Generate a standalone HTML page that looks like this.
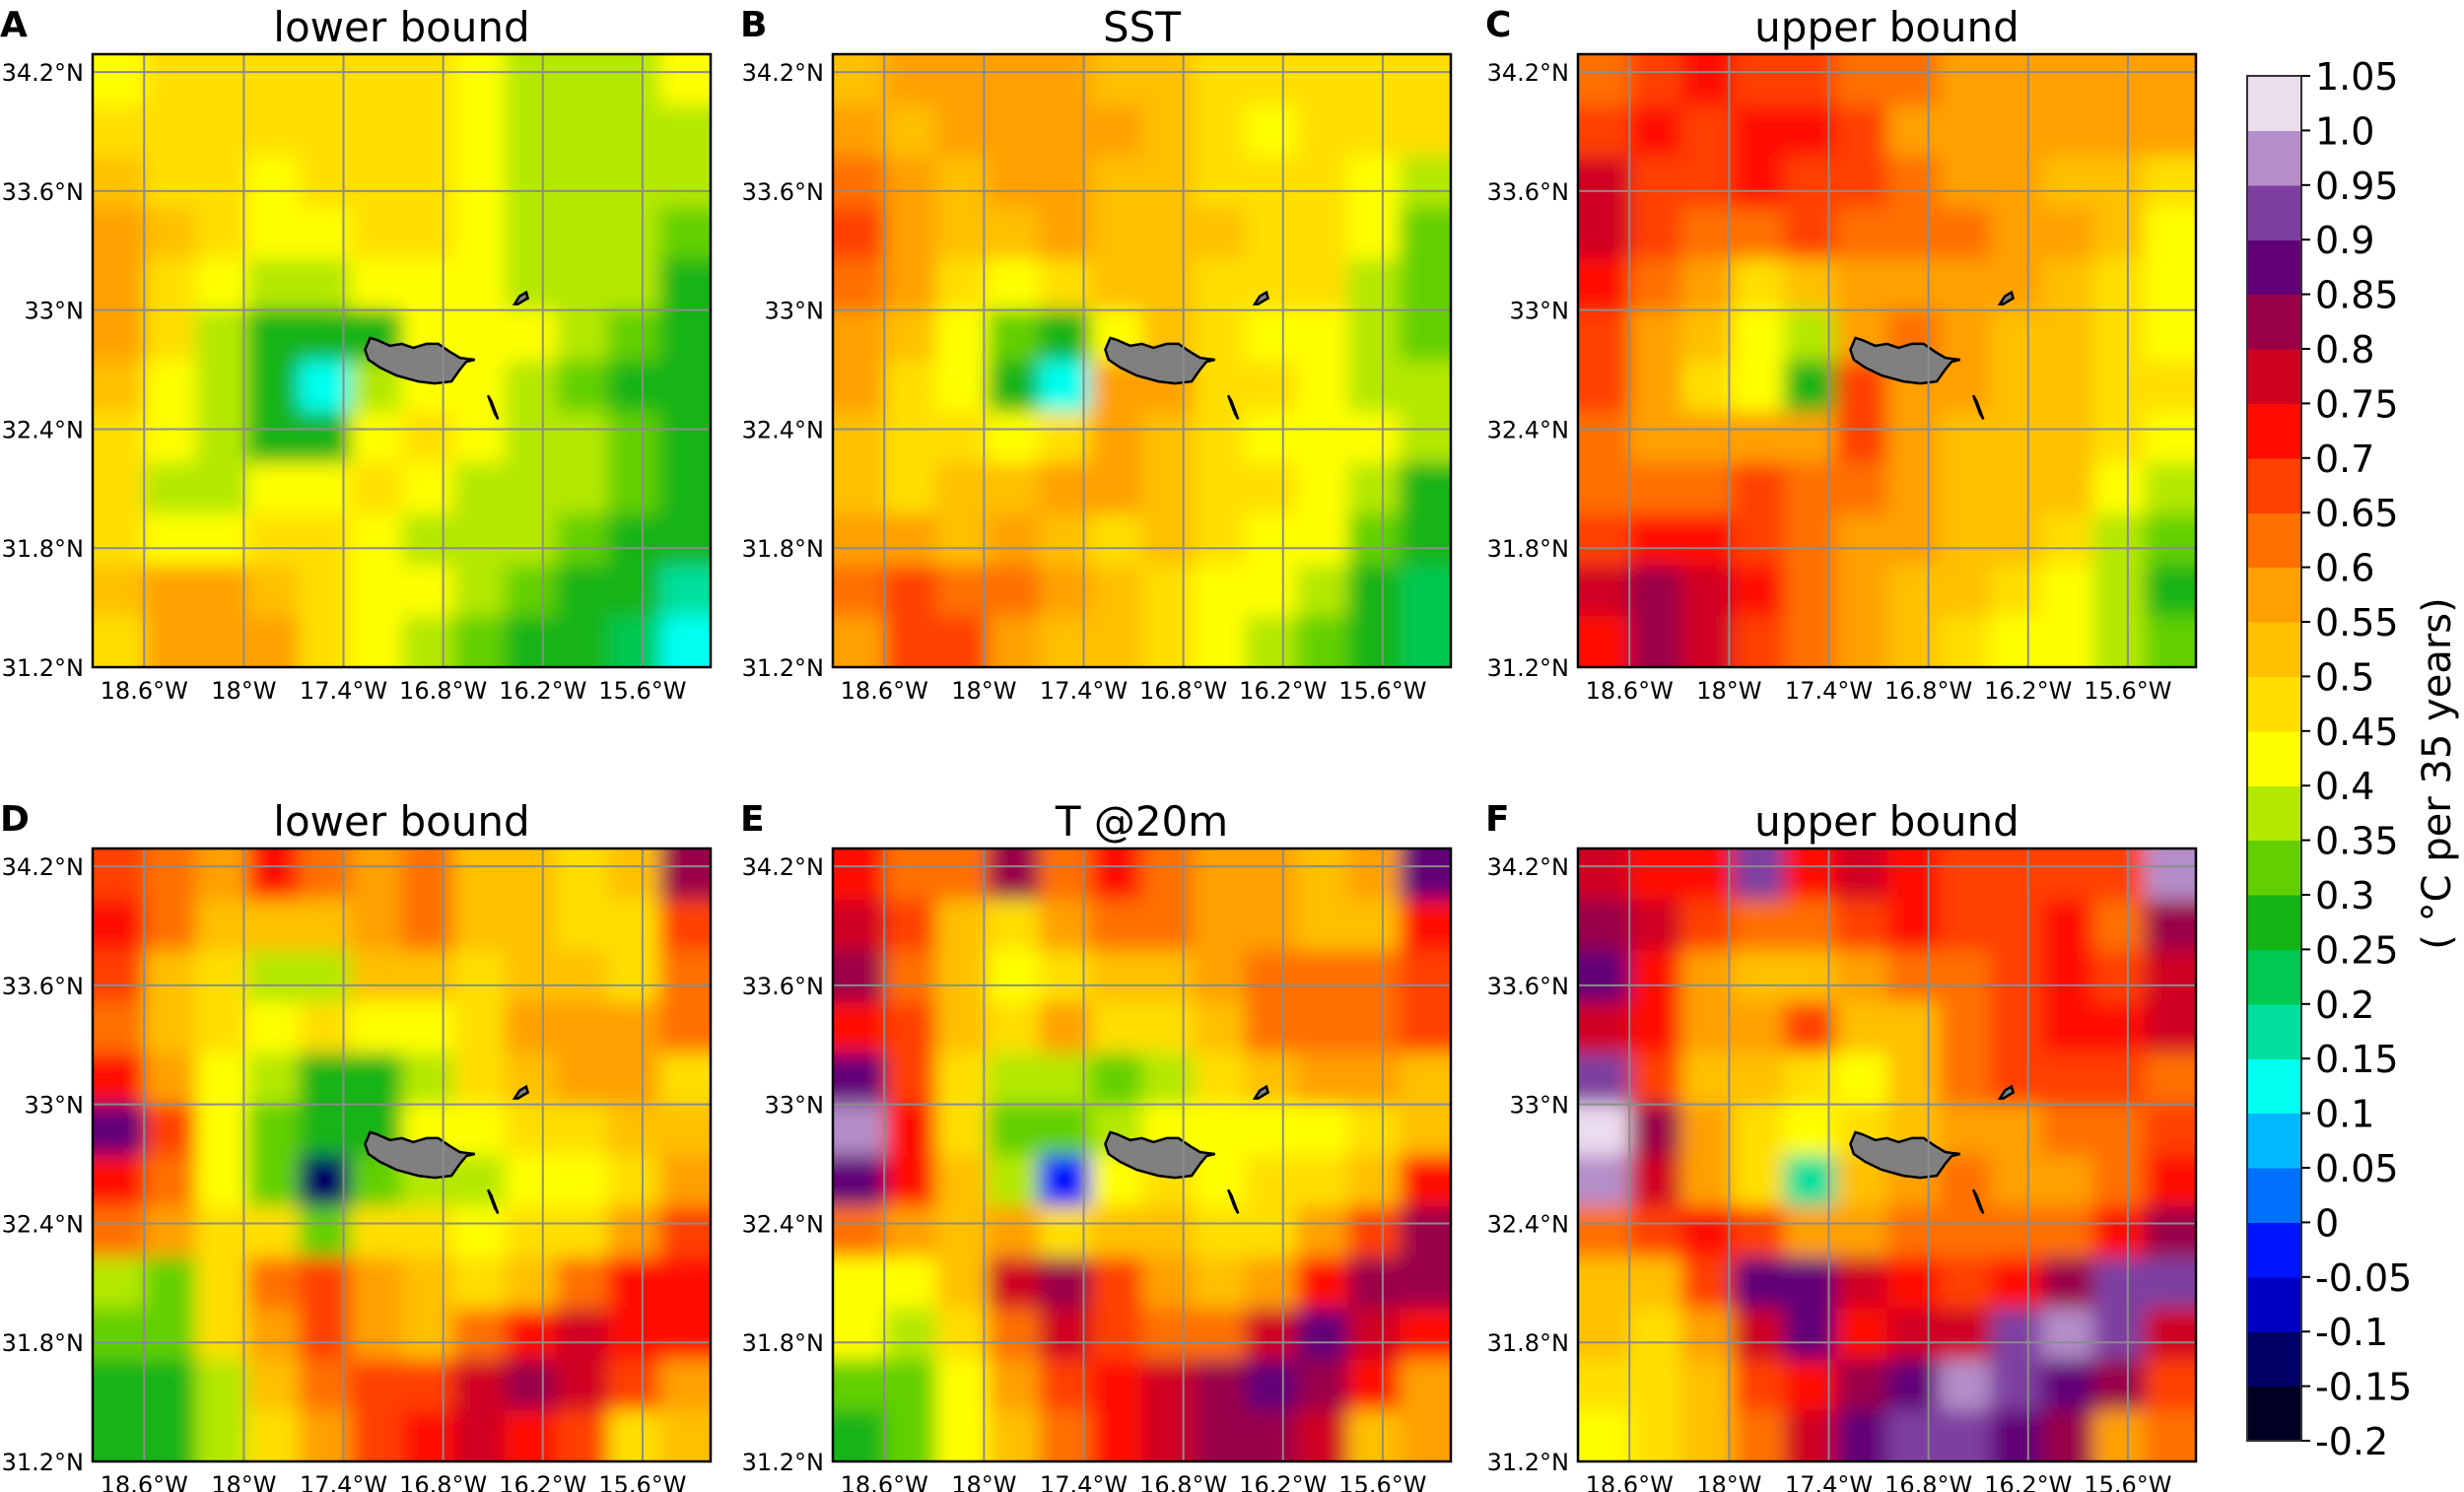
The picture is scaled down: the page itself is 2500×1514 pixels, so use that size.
<!DOCTYPE html>
<html><head><meta charset="utf-8"><style>
html,body{margin:0;padding:0;background:#fff;}
svg{display:block;font-family:"DejaVu Sans","Liberation Sans",sans-serif;}
</style></head><body>
<svg id="fig" width="2500" height="1514" viewBox="0 0 2500 1514" xmlns="http://www.w3.org/2000/svg">
<defs><filter id="soft" x="-10%" y="-10%" width="120%" height="120%"><feGaussianBlur stdDeviation="10"/></filter></defs>
</svg>
<script>
// ---- data (values in hundredths of °C per 35 years), rows N->S, cols W->E ----
const panelLetters = ["A","B","C","D","E","F"];
const panelTitles = ["lower bound","SST","upper bound","lower bound","T @20m","upper bound"];
const latTicks = [34.2,33.6,33.0,32.4,31.8,31.2];
const latLabels = ["34.2°N","33.6°N","33°N","32.4°N","31.8°N","31.2°N"];
const lonTicks = [-18.6,-18.0,-17.4,-16.8,-16.2,-15.6];
const lonLabels = ["18.6°W","18°W","17.4°W","16.8°W","16.2°W","15.6°W"];
const cbLevels = [-0.2,-0.15,-0.1,-0.05,0,0.05,0.1,0.15,0.2,0.25,0.3,0.35,0.4,0.45,0.5,0.55,0.6,0.65,0.7,0.75,0.8,0.85,0.9,0.95,1.0,1.05];
const cbLabels = ["-0.2","-0.15","-0.1","-0.05","0","0.05","0.1","0.15","0.2","0.25","0.3","0.35","0.4","0.45","0.5","0.55","0.6","0.65","0.7","0.75","0.8","0.85","0.9","0.95","1.0","1.05"];
const cbColors = ["#000022","#000066","#0000c4","#0014ff","#0070ff","#00b8ff","#00fff0","#00e09c","#00c850","#14b414","#62d000","#b4e800","#ffff00","#ffdf00","#ffc000","#ffa000","#ff7000","#ff4000","#ff0c00","#d00020","#9a0048","#620078","#7e40a0","#b48ec8","#ebdcee"];
const gridA = [
[42,45,47,47,47,47,45,42,38,38,38,40],
[45,47,47,45,48,47,45,42,38,38,38,38],
[52,47,45,42,47,48,45,42,38,38,38,35],
[55,50,47,42,42,47,45,42,38,38,35,32],
[57,47,42,38,38,42,42,42,38,38,35,28],
[55,45,38,28,25,28,42,42,40,35,32,28],
[50,42,35,25,12,38,42,42,38,32,28,28],
[47,40,35,28,25,40,45,40,38,35,30,28],
[45,38,37,40,42,45,42,38,38,35,30,27],
[45,42,42,45,45,42,38,38,35,30,27,25],
[50,55,55,50,47,42,40,35,30,27,25,17],
[47,57,57,55,47,42,38,32,27,25,22,13]];
const gridB = [
[50,55,57,57,57,52,50,47,47,45,47,47],
[55,52,57,57,57,55,50,45,42,45,47,45],
[62,55,50,55,57,52,52,47,45,45,42,38],
[65,57,50,52,55,52,52,52,47,45,40,32],
[62,55,45,40,45,52,50,47,47,45,38,30],
[57,50,42,32,25,40,52,47,42,40,38,32],
[55,47,40,28,12,55,55,47,45,40,38,35],
[52,47,45,42,45,57,52,45,42,42,40,35],
[50,45,50,50,55,55,52,47,45,42,38,28],
[55,55,52,55,50,47,52,45,42,40,32,25],
[60,65,62,60,55,50,45,42,40,35,28,22],
[55,65,67,57,52,50,45,40,35,32,25,20]];
const gridC = [
[62,67,70,67,67,62,60,57,57,55,57,57],
[67,70,67,70,70,65,57,57,55,57,55,57],
[75,67,65,70,67,65,60,57,57,52,52,47],
[75,67,62,62,65,62,62,62,57,55,50,42],
[72,62,55,47,52,57,57,57,55,52,47,42],
[67,57,50,40,35,55,60,55,52,52,47,42],
[65,55,47,40,25,65,55,55,52,52,47,45],
[62,57,57,55,57,67,57,52,52,50,47,40],
[62,62,62,65,60,60,57,52,52,50,42,35],
[65,70,70,65,60,57,57,52,50,47,38,32],
[75,80,75,70,62,57,52,50,47,42,35,28],
[70,82,77,67,62,57,52,47,42,40,37,30]];
const gridD = [
[65,60,57,72,62,57,62,52,52,47,52,80],
[72,62,52,52,52,57,60,52,52,47,47,65],
[67,52,47,38,37,52,52,47,52,52,47,60],
[62,50,47,42,47,42,42,45,55,55,57,60],
[72,57,42,35,28,25,37,45,52,55,55,47],
[85,65,42,30,25,25,40,42,45,47,52,50],
[70,60,42,30,-15,30,37,38,42,40,45,55],
[60,55,45,45,30,45,45,42,45,47,57,67],
[35,32,45,62,67,57,52,47,52,62,70,72],
[32,30,45,55,65,57,52,62,70,75,72,70],
[25,27,35,52,60,65,67,75,80,75,67,55],
[25,28,37,47,57,67,72,75,72,67,47,50]];
const gridE = [
[70,62,62,80,62,70,62,57,57,52,57,85],
[75,67,52,45,55,62,62,57,55,52,50,70],
[80,60,50,42,47,52,50,57,60,60,60,65],
[72,65,50,47,57,45,45,50,60,62,62,67],
[85,65,45,37,35,30,37,47,52,57,57,52],
[95,72,45,33,30,35,40,42,42,42,47,50],
[85,70,50,35,-5,40,45,42,45,47,52,70],
[60,57,52,57,45,50,50,47,47,55,67,80],
[42,40,50,75,80,67,57,52,57,72,80,82],
[40,37,45,62,75,65,60,62,75,85,77,70],
[32,33,42,55,65,72,77,82,85,80,72,57],
[27,30,40,52,62,72,77,82,80,77,50,55]];
const gridF = [
[75,72,70,90,70,75,72,67,67,65,65,95],
[80,75,67,62,60,65,70,67,67,70,62,82],
[85,72,57,52,52,55,60,62,67,72,67,75],
[77,72,55,57,65,52,50,62,67,70,70,75],
[90,67,52,50,47,42,50,62,65,65,67,60],
[102,80,57,47,42,45,52,57,57,60,62,65],
[95,77,57,45,15,50,57,60,57,55,60,72],
[62,65,72,67,55,57,60,62,62,62,70,80],
[52,50,67,85,87,75,70,65,72,82,92,90],
[50,47,55,75,85,72,75,77,90,95,90,75],
[45,45,50,65,70,80,87,95,90,87,80,67],
[42,45,50,60,75,85,90,92,87,82,55,60]];
const grids = [gridA,gridB,gridC,gridD,gridE,gridF];
const madeiraLon = [-17.27,-17.24,-17.2,-17.12,-17.05,-16.98,-16.9,-16.83,-16.76,-16.7,-16.66,-16.61,-16.66,-16.7,-16.75,-16.85,-16.95,-17.08,-17.18,-17.25,-17.27];
const madeiraLat = [32.8,32.86,32.85,32.82,32.83,32.81,32.83,32.83,32.79,32.76,32.755,32.75,32.74,32.7,32.64,32.63,32.64,32.67,32.71,32.75,32.8];
const portoLon = [-16.37,-16.34,-16.3,-16.29,-16.31,-16.35,-16.37];
const portoLat = [33.03,33.07,33.09,33.06,33.05,33.03,33.03];
const desertasLon = [-16.53,-16.51,-16.47,-16.49,-16.53];
const desertasLat = [32.57,32.54,32.45,32.48,32.57];

// ---- layout ----
const NS="http://www.w3.org/2000/svg";
const svg=document.getElementById('fig');
const defs=svg.querySelector('defs');
const colX=[94,845,1601], rowY=[55,861], PW=627, PH=622;
const lonMin=-18.91, lonMax=-15.19, latMin=31.2, latMax=34.29;
function mk(tag,attrs,parent){const e=document.createElementNS(NS,tag);for(const k in attrs)e.setAttribute(k,attrs[k]);(parent||svg).appendChild(e);return e;}
function colorOf(v){let i=Math.floor((v/100+0.2)/0.05+1e-9);i=Math.max(0,Math.min(cbColors.length-1,i));return cbColors[i];}

grids.forEach((g,p)=>{
  const x0=colX[p%3], y0=rowY[Math.floor(p/3)];
  const xs=lon=>x0+(lon-lonMin)/(lonMax-lonMin)*PW;
  const ys=lat=>y0+(latMax-lat)/(latMax-latMin)*PH;
  const cp=mk('clipPath',{id:'clip'+p},defs);
  mk('rect',{x:x0,y:y0,width:PW,height:PH},cp);
  const grp=mk('g',{});
  
  
  const clipG=mk('g',{'clip-path':'url(#clip'+p+')'},grp);
  const field=mk('g',{filter:'url(#soft)'},clipG);
  
  
  const nr=g.length, nc=g[0].length;
  const cw=PW/nc, ch=PH/nr, pad=50;
  g.forEach((row,r)=>row.forEach((v,c)=>{
    let x=x0+c*cw, y=y0+r*ch, w=cw+1, h=ch+1;
    if(c===0){x-=pad;w+=pad;} if(c===nc-1){w+=pad;}
    if(r===0){y-=pad;h+=pad;} if(r===nr-1){h+=pad;}
    const rc=mk('rect',{x:x.toFixed(1),y:y.toFixed(1),width:w.toFixed(1),height:h.toFixed(1),fill:colorOf(v),'shape-rendering':'crispEdges'},field);
    
    
  }));
  // islands
  [[madeiraLon,madeiraLat,'madeira-island'],[portoLon,portoLat,'porto-santo-island'],[desertasLon,desertasLat,'desertas-island']].forEach(([lo,la,nm])=>{
    const pts=lo.map((l,i)=>xs(l).toFixed(1)+','+ys(la[i]).toFixed(1)).join(' ');
    const pl=mk('polygon',{points:pts,fill:'#808080',stroke:'#000','stroke-width':2.5},grp);
    
    
  });
  // gridlines
  lonTicks.forEach((l,i)=>{
    const X=xs(l);
    const gl=mk('line',{x1:X,x2:X,y1:y0,y2:y0+PH,stroke:'#8c8c8c','stroke-width':2},grp);
    
    
    const t=mk('text',{x:X,y:y0+PH+32,'font-size':24,'text-anchor':'middle',fill:'#000'},grp);
    t.textContent=lonLabels[i];
    
    
  });
  latTicks.forEach((l,i)=>{
    const Y=ys(l);
    const gl=mk('line',{x1:x0,x2:x0+PW,y1:Y,y2:Y,stroke:'#8c8c8c','stroke-width':2},grp);
    
    
    const t=mk('text',{x:x0-9,y:Y+9,'font-size':24,'text-anchor':'end',fill:'#000'},grp);
    t.textContent=latLabels[i];
    
    
  });
  const fr=mk('rect',{x:x0,y:y0,width:PW,height:PH,fill:'none',stroke:'#000','stroke-width':2.5},grp);
  
  
  const tt=mk('text',{x:x0+PW/2,y:y0-13,'font-size':42,'text-anchor':'middle',fill:'#000'},grp);
  tt.textContent=panelTitles[p];
  
  
  const lt=mk('text',{x:x0-94,y:y0-18,'font-size':36,'font-weight':'bold',fill:'#000'},grp);
  lt.textContent=panelLetters[p];
  
  
});

// ---- colorbar ----
const cbX=2280, cbW=55, cbTop=77, cbBot=1462;
const cbG=mk('g',{});


const cy=v=>cbBot-(v-cbLevels[0])/(cbLevels[cbLevels.length-1]-cbLevels[0])*(cbBot-cbTop);
cbColors.forEach((c,i)=>{
  const r=mk('rect',{x:cbX,y:cy(cbLevels[i+1]),width:cbW,height:(cy(cbLevels[i])-cy(cbLevels[i+1])+0.6),fill:c,'shape-rendering':'crispEdges'},cbG);
  
  
});
const cbf=mk('rect',{x:cbX,y:cbTop,width:cbW,height:cbBot-cbTop,fill:'none',stroke:'#333','stroke-width':2},cbG);


cbLevels.forEach((v,i)=>{
  const Y=cy(v);
  const tk=mk('line',{x1:cbX+cbW,x2:cbX+cbW+9,y1:Y,y2:Y,stroke:'#000','stroke-width':2},cbG);
  
  
  const t=mk('text',{x:cbX+cbW+14,y:Y+14,'font-size':38,fill:'#000'},cbG);
  t.textContent=cbLabels[i];
  
  
});
const cl=mk('text',{x:0,y:0,'font-size':40,'text-anchor':'middle',fill:'#000',transform:'translate(2486,785) rotate(-90)'},cbG);
cl.textContent='( °C per 35 years)';


</script>
</body></html>
